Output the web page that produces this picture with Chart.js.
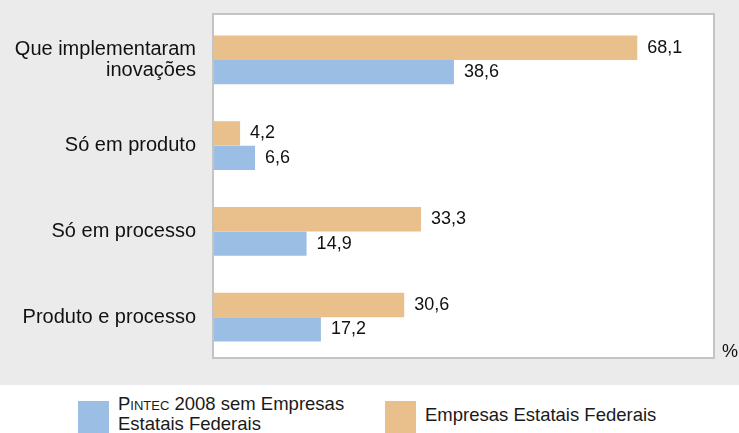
<!DOCTYPE html>
<html lang="pt-BR">
<head>
<meta charset="utf-8">
<title>Empresas que implementaram inovações</title>
<script src="https://cdn.jsdelivr.net/npm/chart.js@4/dist/chart.umd.min.js"></script>
<style>
    html, body {
        margin: 0;
        padding: 0;
        width: 739px;
        height: 433px;
        overflow: hidden;
        font-family: "Liberation Sans", Arial, sans-serif;
        background: #ffffff;
    }
    .chart-wrap {
        position: relative;
        width: 739px;
        height: 385px;
        background: #ebebeb;
    }
    .legenda {
        position: relative;
        height: 48px;
        background: #ffffff;
        color: #1a1a1a;
        font-size: 18.5px;
        line-height: 20px;
    }
    .legenda-cor {
        position: absolute;
        width: 31px;
        height: 32px;
    }
    .legenda-texto {
        position: absolute;
        white-space: nowrap;
    }
    .sc { font-variant: small-caps; }
</style>
</head>
<body>
<div class="chart-wrap">
    <canvas id="inovacoesChart" width="739" height="385"></canvas>
</div>
<div class="legenda">
    <div class="legenda-cor" style="left:78px; top:16px; background:#9bbfe4;"></div>
    <div class="legenda-texto" style="left:118px; top:9px;"><span class="sc">Pintec</span> 2008 sem Empresas<br>Estatais Federais</div>
    <div class="legenda-cor" style="left:385px; top:16px; background:#e9c08b;"></div>
    <div class="legenda-texto" style="left:425px; top:20px;">Empresas Estatais Federais</div>
</div>

<script>
/* ========================================
   EMPRESAS QUE IMPLEMENTARAM INOVAÇÕES (%)
======================================== */

// Dados
const categorias = [
    ['Que implementaram', 'inovações'],
    'Só em produto',
    'Só em processo',
    'Produto e processo'
];
const estataisFederais = [68.1, 4.2, 33.3, 30.6];
const pintecSemEstatais = [38.6, 6.6, 14.9, 17.2];

const COR_ESTATAIS = '#e9c08b';
const COR_PINTEC = '#9bbfe4';

let inovacoesChart = null;

document.addEventListener('DOMContentLoaded', function() {
    initializeChart();
});

// ========================================
// PLUGIN: fundo branco, moldura, valores e "%"
// ========================================

const molduraEValores = {
    id: 'molduraEValores',
    beforeDatasetsDraw(chart) {
        const ctx = chart.ctx;
        const area = chart.chartArea;
        ctx.save();
        ctx.fillStyle = '#ffffff';
        ctx.fillRect(area.left - 1, area.top - 3, area.right - area.left, area.bottom - area.top + 1);
        ctx.restore();
    },
    afterDatasetsDraw(chart) {
        const ctx = chart.ctx;
        const area = chart.chartArea;

        // Moldura da área do gráfico
        ctx.save();
        ctx.strokeStyle = '#c4c4c4';
        ctx.lineWidth = 2;
        ctx.strokeRect(area.left - 1, area.top - 3, area.right - area.left, area.bottom - area.top + 1);

        // Rótulos de valor ao lado das barras
        ctx.fillStyle = '#111111';
        ctx.font = '18px "Liberation Sans", Arial, sans-serif';
        ctx.textAlign = 'left';
        ctx.textBaseline = 'middle';
        chart.data.datasets.forEach((ds, i) => {
            const meta = chart.getDatasetMeta(i);
            meta.data.forEach((bar, j) => {
                const texto = ds.data[j].toFixed(1).replace('.', ',');
                ctx.fillText(texto, bar.x + 10, bar.y);
            });
        });

        // Unidade
        ctx.fillText('%', 722, area.bottom - 8);
        ctx.restore();
    }
};

// ========================================
// GRÁFICO
// ========================================

function initializeChart() {
    const ctx = document.getElementById('inovacoesChart');
    if (!ctx) return;

    if (inovacoesChart) {
        inovacoesChart.destroy();
    }

    inovacoesChart = new Chart(ctx, {
        type: 'bar',
        data: {
            labels: categorias,
            datasets: [
                {
                    label: 'Empresas Estatais Federais',
                    data: estataisFederais,
                    backgroundColor: COR_ESTATAIS,
                    borderWidth: 0
                },
                {
                    label: 'Pintec 2008 sem Empresas Estatais Federais',
                    data: pintecSemEstatais,
                    backgroundColor: COR_PINTEC,
                    borderWidth: 0
                }
            ]
        },
        options: {
            indexAxis: 'y',
            responsive: false,
            animation: false,
            layout: {
                padding: { top: 17, right: 24, bottom: 25, left: 0 }
            },
            datasets: {
                bar: {
                    barPercentage: 1,
                    categoryPercentage: 0.57
                }
            },
            scales: {
                x: {
                    display: false,
                    min: 0,
                    max: 80.6
                },
                y: {
                    grid: { display: false, drawTicks: false },
                    border: { display: false },
                    afterFit: function(scale) {
                        scale.width = 214;
                        scale.paddingTop = 0;
                        scale.paddingBottom = 0;
                    },
                    ticks: {
                        color: '#111111',
                        padding: 18,
                        font: {
                            family: '"Liberation Sans", Arial, sans-serif',
                            size: 20,
                            lineHeight: 1.05
                        }
                    }
                }
            },
            plugins: {
                legend: { display: false },
                tooltip: { enabled: false }
            }
        },
        plugins: [molduraEValores]
    });
}
</script>
</body>
</html>
